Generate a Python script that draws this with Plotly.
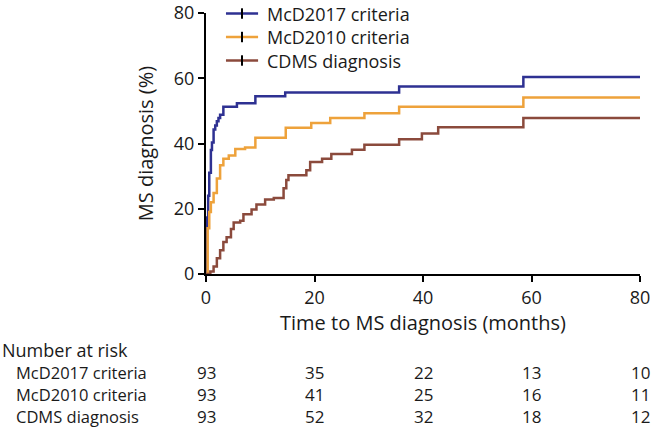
import plotly.graph_objects as go

# ---- data ----
series_names = ["McD2017 criteria", "McD2010 criteria", "CDMS diagnosis"]

t_2017 = [0, 0.2, 0.4, 0.6, 0.9, 1.1, 1.4, 1.7, 2.0, 2.3, 2.6, 3.2, 5.7, 9.1, 14.6, 35.6, 58.5, 80]
p_2017 = [0, 17.3, 24, 31, 38, 40.3, 44.3, 45.5, 46.8, 47.8, 48.8, 51.3, 52.3, 54.5, 55.6, 57.5, 60.4, 60.4]

t_2010 = [0, 0.3, 0.6, 0.9, 1.4, 2.0, 2.6, 3.2, 4.2, 5.4, 7.2, 9.1, 14.7, 19.4, 22.9, 29.2, 35.6, 58.5, 80]
p_2010 = [0, 14, 19, 22, 24.8, 29.3, 33.3, 35.3, 36.3, 38.3, 38.8, 41.8, 44.8, 46.3, 47.8, 49.3, 51.3, 54.1, 54.1]

t_cdms = [0, 0.3, 0.8, 1.4, 2.0, 2.6, 3.2, 3.8, 4.6, 5.1, 6.3, 6.9, 8.4, 9.3, 10.9, 12.5, 14.3, 14.8,
          15.2, 18.5, 19.2, 21.4, 23.1, 26.9, 29.2, 35.6, 39.8, 42.8, 58.5, 80]
p_cdms = [0, 0, 0.8, 2.3, 4.8, 7.3, 9.8, 11.3, 13.8, 15.8, 16.3, 18.3, 19.8, 21.3, 22.8, 23.3, 26.3, 28.8,
          30.3, 31.8, 34.3, 35.3, 36.8, 38.1, 39.6, 41.3, 43.1, 45.0, 47.8, 47.8]

risk_times = [0, 20, 40, 60, 80]
risk_2017 = [93, 35, 22, 13, 10]
risk_2010 = [93, 41, 25, 16, 11]
risk_cdms = [93, 52, 32, 18, 12]

x_ticks = [0, 20, 40, 60, 80]
y_ticks = [0, 20, 40, 60, 80]

colors = ["#2E3192", "#EEA23B", "#8B4A3C"]
FONT = "Open Sans"
TXT = "#1a1a1a"

fig = go.Figure()
for name, t, p, c in zip(series_names, [t_2017, t_2010, t_cdms], [p_2017, p_2010, p_cdms], colors):
    fig.add_trace(go.Scatter(x=t, y=p, mode="lines", name=name,
                             line=dict(color=c, width=2.5, shape="hv"),
                             showlegend=False, hoverinfo="skip"))

# legend (drawn as key swatches in paper coordinates)
legend_rows = [0.998, 0.908, 0.818]
shapes = []
annots = []
for name, c, ly in zip(series_names, colors, legend_rows):
    shapes.append(dict(type="line", xref="paper", yref="paper", x0=0.046, x1=0.12, y0=ly, y1=ly,
                       line=dict(color=c, width=2.5)))
    shapes.append(dict(type="line", xref="paper", yref="paper", x0=0.083, x1=0.083,
                       y0=ly - 0.02, y1=ly + 0.02, line=dict(color="black", width=2)))
    annots.append(dict(text=name, x=0.136, y=ly, xref="paper", yref="paper", xanchor="left",
                       yanchor="middle", showarrow=False, font=dict(size=18, color=TXT)))

# risk table
annots.append(dict(text="Number at risk", x=-0.4747, y=-0.29, xref="paper", yref="paper",
                   xanchor="left", yanchor="middle", showarrow=False, font=dict(size=18, color=TXT)))
row_y = [-0.378, -0.4615, -0.545]
for name, vals, yy in zip(series_names, [risk_2017, risk_2010, risk_cdms], row_y):
    annots.append(dict(text=name, x=-0.4424, y=yy, xref="paper", yref="paper", xanchor="left",
                       yanchor="middle", showarrow=False, font=dict(size=16.5, color=TXT)))
    for tx, v in zip(risk_times, vals):
        annots.append(dict(text=str(v), x=tx, y=yy, xref="x", yref="paper", xanchor="center",
                           yanchor="middle", showarrow=False, font=dict(size=17, color=TXT)))

fig.update_layout(
    width=652, height=431,
    margin=dict(l=206, r=12, t=13, b=157, autoexpand=False),
    paper_bgcolor="white", plot_bgcolor="white",
    font=dict(family=FONT, size=18, color=TXT),
    showlegend=False,
    shapes=shapes,
    annotations=annots,
)
fig.update_xaxes(range=[0, 80], tickvals=x_ticks, showgrid=False, zeroline=False,
                 showline=True, linecolor="black", linewidth=2, ticks="outside", ticklen=6,
                 tickwidth=2, tickcolor="black", tickfont=dict(size=18, color=TXT),
                 ticklabeloverflow="allow",
                 title=dict(text="Time to MS diagnosis (months)", font=dict(size=20, color=TXT),
                            standoff=6))
fig.update_yaxes(range=[0, 80], tickvals=y_ticks, showgrid=False, zeroline=False,
                 showline=True, linecolor="black", linewidth=2, ticks="outside", ticklen=6,
                 tickwidth=2, tickcolor="black", tickfont=dict(size=18, color=TXT),
                 ticklabeloverflow="allow",
                 title=dict(text="MS diagnosis (%)", font=dict(size=20, color=TXT)))

fig.write_html("out.html", config={"displayModeBar": False},
               post_script="document.body.style.margin='0';")
